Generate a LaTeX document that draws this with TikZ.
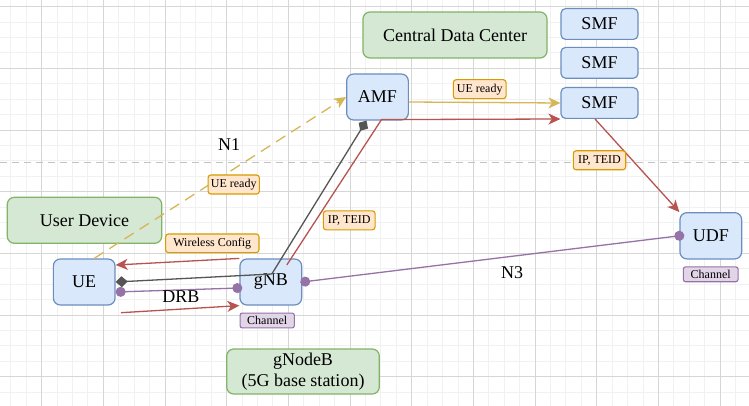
\documentclass[tikz,border=0pt]{standalone}
\usepackage{fontspec}
\setmainfont{Liberation Serif}
\usetikzlibrary{arrows.meta,calc}
\definecolor{bluefill}{HTML}{DAE8FC}
\definecolor{blueline}{HTML}{6C8EBF}
\definecolor{greenfill}{HTML}{D5E8D4}
\definecolor{greenline}{HTML}{82B366}
\definecolor{orangefill}{HTML}{FFE6CC}
\definecolor{orangeline}{HTML}{D79B00}
\definecolor{purplefill}{HTML}{E1D5E7}
\definecolor{purpleline}{HTML}{9673A6}
\definecolor{redline}{HTML}{B85450}
\definecolor{yellowline}{HTML}{D6B656}
\definecolor{grayline}{HTML}{555555}
\definecolor{gridmajor}{HTML}{D6D6D6}
\definecolor{gridminor}{HTML}{F1F1F1}
\definecolor{sepline}{HTML}{C2C2C2}
\begin{document}
\begin{tikzpicture}[x=1pt,y=-1pt,
  bigtext/.style={font=\fontsize{18}{21}\selectfont},
  smalltext/.style={font=\fontsize{12}{14}\selectfont},
  fnbox/.style={draw=blueline,fill=bluefill,line width=1.2pt,inner sep=0pt,rounded corners=7pt,bigtext,minimum width=61.7pt,minimum height=46pt},
  smfbox/.style={fnbox,rounded corners=4.6pt,minimum width=77pt,minimum height=30.8pt},
  grpbox/.style={draw=greenline,fill=greenfill,line width=1.2pt,inner sep=0pt,rounded corners=7pt,bigtext,minimum height=46pt,align=center},
  msglbl/.style={draw=orangeline,fill=orangefill,line width=1.1pt,inner sep=0pt,rounded corners=2.8pt,smalltext,minimum height=19pt},
  chanlbl/.style={draw=purpleline,fill=purplefill,line width=1.1pt,inner sep=0pt,rounded corners=2.2pt,smalltext,minimum height=14.8pt},
  freetext/.style={bigtext,inner sep=0pt},
  link/.style={line width=1.3pt},
  arr/.style={link,-{Stealth[length=12pt,width=11pt,inset=3.5pt]}},
  dots/.style={link,{Circle[length=10pt]}-{Circle[length=10pt]}},
  diams/.style={link,{Diamond[length=12pt,width=11pt]}-{Diamond[length=12pt,width=11pt]}},
]
\useasboundingbox (0,0) rectangle (749,406);
\fill[white] (0,0) rectangle (749,406);
% grid
\foreach \i in {0,...,48} \draw[gridminor,line width=0.9pt] ({10.85+15.417*\i},0) -- ++(0,406);
\foreach \j in {0,...,26} \draw[gridminor,line width=0.9pt] (0,{6.7+15.417*\j}) -- ++(749,0);
\foreach \i in {0,...,11} \draw[gridmajor,line width=1pt] ({41.7+61.67*\i},0) -- ++(0,406);
\foreach \j in {0,...,6} \draw[gridmajor,line width=1pt] (0,{6.7+61.67*\j}) -- ++(749,0);
% separator
\draw[sepline,line width=1.3pt,dash pattern=on 7pt off 5pt] (0,162.5) -- (749,162.5);

% nodes
\node[grpbox,minimum width=184pt] (cdc) at (455,35) {Central Data Center};
\node[smfbox] (smfa) at (599.5,24) {SMF};
\node[smfbox] (smfb) at (599.5,62.8) {SMF};
\node[smfbox] (smfc) at (599.5,103) {SMF};
\node[fnbox] (amf) at (377.5,97) {AMF};
\node[grpbox,minimum width=154.4pt] (dev) at (84.5,220.3) {User Device};
\node[fnbox] (ue) at (84.2,282) {UE};
\node[fnbox] (gnb) at (270.8,282) {gNB};
\node[fnbox,minimum height=46.3pt] (udf) at (710.8,235.8) {UDF};
\node[grpbox,minimum width=152.6pt,minimum height=45pt] (gnodeb) at (303,371.5) {gNodeB\\(5G base station)};
\node[chanlbl,minimum width=54.3pt] (chgnb) at (267.2,320.5) {Channel};
\node[chanlbl,minimum width=54.7pt] (chudf) at (710.7,274.3) {Channel};

% helper coordinates
\coordinate (drbstart) at (121,312.7);
\coordinate (redbend) at ($(amf.south)+(4,-1)$);
\coordinate (graybend) at ($(gnb.center)+(1,-8)$);
\coordinate (redgnb) at ($(gnb.center)+(16,-17)$);

% connectors
\draw[arr,yellowline,dash pattern=on 11pt off 7pt] ($(ue.north)+(10,0)$) -- (amf.west);
\draw[arr,yellowline] ($(amf.east)+(0,5)$) -- (smfc.west);
\draw[arr,redline] (redgnb) -- (redbend) -- (smfc.south west);
\draw[diams,grayline] ($(amf.south)+(-11,0)$) -- (graybend) -- (ue.east);
\draw[arr,redline] (gnb.north west) -- ($(ue.east)+(0,-17)$);
\draw[dots,purpleline,shorten >=-3pt] ($(ue.east)+(0,10)$) -- ($(gnb.west)+(0,6)$);
\draw[arr,redline] (drbstart) -- (gnb.south west);
\draw[dots,purpleline,shorten <=-2pt,shorten >=-5pt] (gnb.east) -- (udf.west);
\draw[arr,redline] ($(smfc.south)+(-4.5,0)$) -- (udf.north west);

% labels
\node[msglbl,minimum width=51.3pt] (lbla) at (233.7,184.5) {UE ready};
\node[msglbl,minimum width=52.7pt] (lblb) at (479.7,89.2) {UE ready};
\node[msglbl,minimum width=52.4pt] (lblc) at (599.5,160.3) {IP, TEID};
\node[msglbl,minimum width=51.7pt] (lbld) at (349.2,220.3) {IP, TEID};
\node[msglbl,minimum width=93.3pt,minimum height=18.7pt] (lble) at (212.3,243.3) {Wireless Config};
\node[freetext] (nA) at (229,145) {N1};
\node[freetext] (nB) at (512,273) {N3};
\node[freetext] (nC) at (181,297) {DRB};
\end{tikzpicture}
\end{document}
